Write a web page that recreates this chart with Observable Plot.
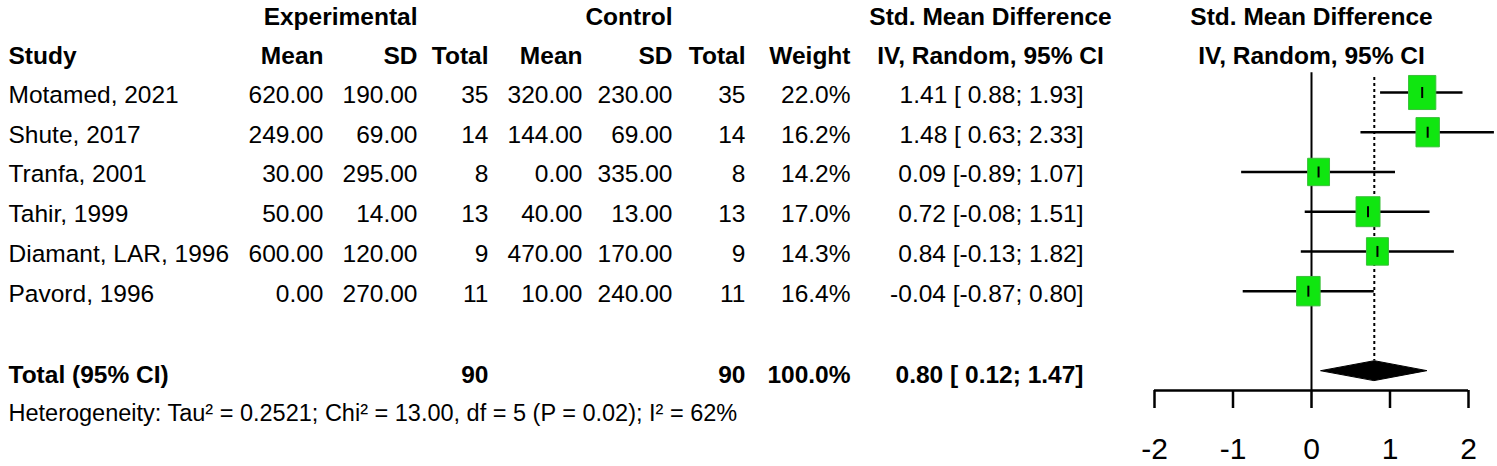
<!DOCTYPE html>
<html><head><meta charset="utf-8">
<script src="https://cdn.jsdelivr.net/npm/d3@7"></script>
<script src="https://cdn.jsdelivr.net/npm/@observablehq/plot@0.6"></script>
<style>html,body{margin:0;padding:0;background:#fff;} #chart svg{display:block}</style>
</head><body><div id="chart"></div>
<script>
// ---------- data ----------
const studies   = ["Motamed, 2021","Shute, 2017","Tranfa, 2001","Tahir, 1999","Diamant, LAR, 1996","Pavord, 1996"];
const expMean   = [620, 249, 30, 50, 600, 0];
const expSD     = [190, 69, 295, 14, 120, 270];
const expN      = [35, 14, 8, 13, 9, 11];
const ctrlMean  = [320, 144, 0, 40, 470, 10];
const ctrlSD    = [230, 69, 335, 13, 170, 240];
const ctrlN     = [35, 14, 8, 13, 9, 11];
const weights   = [22.0, 16.2, 14.2, 17.0, 14.3, 16.4];
const smd       = [1.41, 1.48, 0.09, 0.72, 0.84, -0.04];
const lower     = [0.88, 0.63, -0.89, -0.08, -0.13, -0.87];
const upper     = [1.93, 2.33, 1.07, 1.51, 1.82, 0.80];
const totalExpN = 90, totalCtrlN = 90, totalWeight = 100.0;
const pooled = {smd: 0.80, lo: 0.12, hi: 1.47};
const nullEffect = 0;
const xTicks = [-2, -1, 0, 1, 2];
const heterogeneity = "Heterogeneity: Tau\u00B2 = 0.2521; Chi\u00B2 = 13.00, df = 5 (P = 0.02); I\u00B2 = 62%";

// ---------- formatting ----------
const f2 = v => v.toFixed(2);
const ci = (e, l, h) => `${f2(e)} [${l < 0 ? "" : " "}${f2(l)}; ${f2(h)}]`;

const studyRows = studies.map((s, i) => ({
  r: i, study: s,
  expMean: f2(expMean[i]), expSD: f2(expSD[i]), expN: String(expN[i]),
  ctrlMean: f2(ctrlMean[i]), ctrlSD: f2(ctrlSD[i]), ctrlN: String(ctrlN[i]),
  weight: weights[i].toFixed(1) + "%", ci: ci(smd[i], lower[i], upper[i]),
  w: weights[i], est: smd[i], lo: lower[i], hi: upper[i]
}));
const lastStudy = studies.length - 1;
const totalRow = [{r: lastStudy + 2, study: "Total (95% CI)", expN: String(totalExpN), ctrlN: String(totalCtrlN),
  weight: totalWeight.toFixed(1) + "%", ci: ci(pooled.smd, pooled.lo, pooled.hi)}];
const hetRow = [{r: lastStudy + 3, study: heterogeneity}];
const headRows = [
  {r: -2, expSD: "Experimental", ctrlSD: "Control", smdHead: "Std. Mean Difference"},
  {r: -1, study: "Study", expMean: "Mean", expSD: "SD", expN: "Total", ctrlMean: "Mean", ctrlSD: "SD",
   ctrlN: "Total", weight: "Weight", smdHead: "IV, Random, 95% CI"}
];
const xMid = (xTicks[0] + xTicks[xTicks.length - 1]) / 2;
const plotHead = [{r: -2, t: "Std. Mean Difference", x: xMid}, {r: -1, t: "IV, Random, 95% CI", x: xMid}];

// ---------- layout ----------
const FONT = "'Liberation Sans', Arial, Helvetica, sans-serif";
const cols = [
  {key: "study",   at: 8,    anchor: "start"},
  {key: "expMean", at: 323,  anchor: "end"},
  {key: "expSD",   at: 417,  anchor: "end"},
  {key: "expN",    at: 488,  anchor: "end"},
  {key: "ctrlMean",at: 582,  anchor: "end"},
  {key: "ctrlSD",  at: 672,  anchor: "end"},
  {key: "ctrlN",   at: 745,  anchor: "end"},
  {key: "weight",  at: 850,  anchor: "end"},
  {key: "ci",      at: 1083, anchor: "end"},
  {key: "smdHead", at: 990,  anchor: "middle"}
];
const groups = [
  {data: headRows,  bold: true,  size: 24.5, dy: 3.8},
  {data: studyRows, bold: false, size: 24.5, dy: 2.5},
  {data: totalRow,  bold: true,  size: 24.5, dy: 4.5},
  {data: hetRow,    bold: false, size: 23.5, dy: 3.5}
];
const textMarks = [];
for (const g of groups) for (const c of cols) {
  const d = g.data.filter(row => row[c.key] != null);
  if (!d.length) continue;
  textMarks.push(Plot.text(d, {y: "r", text: c.key, frameAnchor: "left", dx: c.at, dy: g.dy,
    textAnchor: c.anchor, fontSize: g.size, fontWeight: g.bold ? "bold" : "normal", fill: "black"}));
}

const rectSym = {draw(ctx, size) { const w = Math.sqrt(size / 1.25), h = w * 1.25; ctx.rect(-w / 2, -h / 2, w, h); }};
const vlineSym = {draw(ctx, size) { const h = Math.sqrt(size); ctx.moveTo(0, -h / 2); ctx.lineTo(0, h / 2); }};
const diamond = [
  {x: pooled.lo, y: lastStudy + 2}, {x: pooled.smd, y: lastStudy + 2 - 0.25},
  {x: pooled.hi, y: lastStudy + 2}, {x: pooled.smd, y: lastStudy + 2 + 0.25}
];
const axisRow = lastStudy + 2.5;

const chart = Plot.plot({
  width: 1497, height: 466,
  marginTop: 0, marginLeft: 0, marginRight: 0, marginBottom: 76,
  style: {fontFamily: FONT, background: "white", color: "black"},
  x: {domain: [xTicks[0], xTicks[xTicks.length - 1]], range: [1154, 1468]},
  y: {domain: [0, axisRow], range: [92, 390], axis: null},
  r: {range: [0, 17.2]},
  marks: [
    ...textMarks,
    Plot.text(plotHead, {x: "x", y: "r", text: "t", dy: 3.8, textAnchor: "middle", fontSize: 24.5, fontWeight: "bold", fill: "black"}),
    Plot.ruleX([nullEffect], {y1: -0.5, y2: axisRow, stroke: "black", strokeWidth: 2}),
    Plot.ruleX([pooled.smd], {y1: -0.38, y2: lastStudy + 2 - 0.25, stroke: "black", strokeWidth: 2, strokeDasharray: "3,3"}),
    Plot.ruleY(studyRows, {y: "r", x1: "lo", x2: "hi", stroke: "black", strokeWidth: 2.5}),
    Plot.dot(studyRows, {x: "est", y: "r", r: "w", symbol: rectSym, fill: "#10e610", stroke: "#3bbf3b", strokeWidth: 1}),
    Plot.dot(studyRows, {x: "est", y: "r", r: 6.2, symbol: vlineSym, fill: "none", stroke: "black", strokeWidth: 2}),
    Plot.line(diamond, {x: "x", y: "y", fill: "black", stroke: "black", strokeWidth: 1, curve: "linear-closed"}),
    Plot.ruleY([axisRow], {x1: xTicks[0], x2: xTicks[xTicks.length - 1], stroke: "black", strokeWidth: 2.5}),
    Plot.axisX({ticks: xTicks, tickSize: 18, tickPadding: 29, fontSize: 30, strokeWidth: 2.5, stroke: "black",
      tickFormat: d => String(d), fill: "black"})
  ]
});
document.getElementById("chart").appendChild(chart);
</script>
</body></html>
